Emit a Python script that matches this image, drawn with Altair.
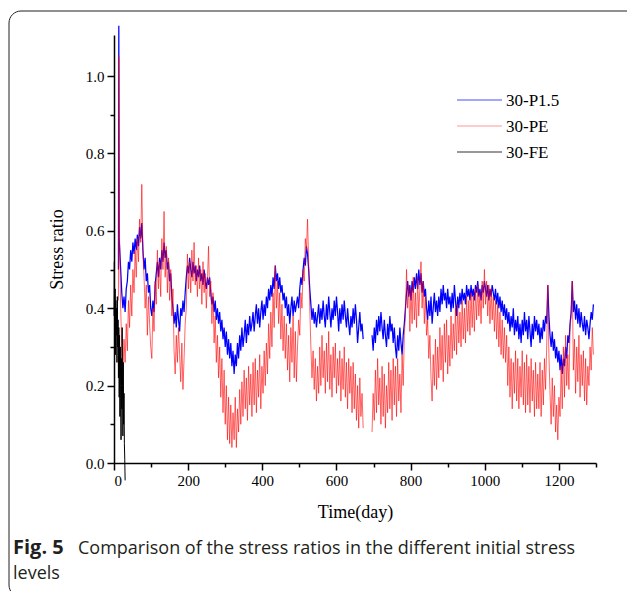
import altair as alt
import pandas as pd

# ---------------- data ----------------
names = ["30-P1.5", "30-PE", "30-FE"]
colors = ["#0000ff", "#ff0000", "#000000"]
legend_colors = ["#4d4dff", "#ff9a9a", "#333333"]

STEP = 3  # sampling step (days) of the two long series

# 30-P1.5 : initial spike, then samples every 3 days
p15_head_days = [12, 13, 14]
p15_head_vals = [0.50, 1.13, 0.58]
p15_a_start = 15          # segment A: day 15 .. 672
p15_a = [
    0.56, 0.50, 0.44, 0.40, 0.43, 0.39, 0.45, 0.47, 0.52, 0.50,
    0.55, 0.52, 0.57, 0.54, 0.58, 0.55, 0.59, 0.56, 0.61, 0.58,
    0.62, 0.55, 0.50, 0.53, 0.47, 0.49, 0.44, 0.46, 0.40, 0.38,
    0.42, 0.39, 0.46, 0.49, 0.52, 0.48, 0.53, 0.50, 0.55, 0.52,
    0.57, 0.53, 0.55, 0.50, 0.52, 0.47, 0.49, 0.43, 0.40, 0.36,
    0.39, 0.35, 0.41, 0.37, 0.34, 0.40, 0.38, 0.42, 0.39, 0.44,
    0.48, 0.51, 0.49, 0.53, 0.50, 0.48, 0.52, 0.49, 0.51, 0.47,
    0.50, 0.48, 0.51, 0.47, 0.49, 0.46, 0.50, 0.47, 0.45, 0.48,
    0.46, 0.48, 0.44, 0.41, 0.43, 0.39, 0.42, 0.37, 0.40, 0.36,
    0.39, 0.34, 0.37, 0.32, 0.35, 0.30, 0.34, 0.28, 0.32, 0.27,
    0.31, 0.25, 0.29, 0.23, 0.28, 0.25, 0.31, 0.27, 0.33, 0.29,
    0.35, 0.30, 0.33, 0.37, 0.31, 0.36, 0.33, 0.38, 0.34, 0.36,
    0.39, 0.34, 0.38, 0.41, 0.36, 0.40, 0.35, 0.39, 0.42, 0.37,
    0.41, 0.38, 0.43, 0.40, 0.45, 0.42, 0.46, 0.43, 0.48, 0.45,
    0.51, 0.47, 0.49, 0.45, 0.48, 0.44, 0.46, 0.42, 0.44, 0.40,
    0.43, 0.38, 0.41, 0.36, 0.40, 0.43, 0.38, 0.42, 0.39, 0.41,
    0.43, 0.40, 0.45, 0.48, 0.46, 0.50, 0.53, 0.51, 0.56, 0.54,
    0.50, 0.45, 0.41, 0.37, 0.40, 0.36, 0.39, 0.35, 0.38, 0.41,
    0.36, 0.40, 0.37, 0.42, 0.38, 0.35, 0.41, 0.37, 0.43, 0.39,
    0.35, 0.40, 0.37, 0.42, 0.38, 0.43, 0.39, 0.34, 0.40, 0.36,
    0.41, 0.37, 0.42, 0.38, 0.35, 0.40, 0.36, 0.33, 0.38, 0.35,
    0.40, 0.36, 0.41, 0.37, 0.31, 0.35, 0.39, 0.34, 0.36, 0.32,
]
p15_b_start = 696        # segment B: day 696 .. 1293
p15_b = [
    0.33, 0.29, 0.35, 0.31, 0.37, 0.33, 0.38, 0.34, 0.39, 0.35,
    0.32, 0.37, 0.33, 0.30, 0.36, 0.32, 0.38, 0.34, 0.36, 0.31,
    0.35, 0.30, 0.27, 0.33, 0.29, 0.35, 0.31, 0.28, 0.33, 0.36,
    0.40, 0.44, 0.47, 0.43, 0.46, 0.42, 0.47, 0.44, 0.48, 0.45,
    0.49, 0.45, 0.50, 0.46, 0.49, 0.44, 0.47, 0.43, 0.45, 0.40,
    0.37, 0.42, 0.38, 0.43, 0.36, 0.40, 0.44, 0.39, 0.42, 0.38,
    0.43, 0.39, 0.45, 0.41, 0.46, 0.42, 0.44, 0.40, 0.45, 0.41,
    0.43, 0.39, 0.44, 0.40, 0.46, 0.42, 0.38, 0.43, 0.40, 0.44,
    0.41, 0.45, 0.42, 0.44, 0.41, 0.46, 0.43, 0.45, 0.42, 0.46,
    0.43, 0.45, 0.42, 0.46, 0.44, 0.47, 0.43, 0.45, 0.42, 0.46,
    0.44, 0.47, 0.45, 0.43, 0.46, 0.42, 0.45, 0.43, 0.46, 0.44,
    0.42, 0.45, 0.41, 0.44, 0.40, 0.43, 0.39, 0.42, 0.38, 0.41,
    0.37, 0.40, 0.36, 0.39, 0.34, 0.38, 0.35, 0.40, 0.33, 0.37,
    0.34, 0.38, 0.32, 0.36, 0.31, 0.37, 0.33, 0.39, 0.34, 0.37,
    0.32, 0.38, 0.34, 0.30, 0.36, 0.32, 0.38, 0.34, 0.37, 0.33,
    0.36, 0.31, 0.35, 0.32, 0.37, 0.34, 0.38, 0.36, 0.46, 0.38,
    0.33, 0.30, 0.34, 0.29, 0.32, 0.27, 0.30, 0.26, 0.29, 0.24,
    0.28, 0.23, 0.27, 0.25, 0.30, 0.27, 0.33, 0.31, 0.36, 0.39,
    0.47, 0.39, 0.42, 0.37, 0.41, 0.36, 0.40, 0.35, 0.39, 0.36,
    0.34, 0.38, 0.33, 0.37, 0.35, 0.32, 0.36, 0.39, 0.37, 0.41,
]

# 30-PE
pe_head_days = [12, 13, 14]
pe_head_vals = [0.42, 1.05, 0.74]
pe_a_start = 15
pe_a = [
    0.58, 0.40, 0.30, 0.23, 0.32, 0.26, 0.36, 0.29, 0.42, 0.35,
    0.46, 0.38, 0.50, 0.44, 0.55, 0.48, 0.58, 0.52, 0.63, 0.57,
    0.72, 0.55, 0.48, 0.40, 0.46, 0.33, 0.43, 0.36, 0.30, 0.27,
    0.40, 0.34, 0.47, 0.41, 0.55, 0.45, 0.52, 0.43, 0.58, 0.50,
    0.65, 0.48, 0.56, 0.44, 0.53, 0.42, 0.50, 0.38, 0.45, 0.29,
    0.23, 0.33, 0.26, 0.35, 0.28, 0.21, 0.31, 0.19, 0.27, 0.36,
    0.40, 0.54, 0.45, 0.52, 0.44, 0.55, 0.47, 0.57, 0.46, 0.51,
    0.43, 0.53, 0.45, 0.50, 0.41, 0.52, 0.44, 0.49, 0.40, 0.47,
    0.56, 0.43, 0.47, 0.36, 0.44, 0.31, 0.38, 0.26, 0.33, 0.22,
    0.30, 0.17, 0.27, 0.13, 0.24, 0.10, 0.20, 0.06, 0.17, 0.05,
    0.15, 0.04, 0.13, 0.06, 0.17, 0.04, 0.14, 0.08, 0.19, 0.10,
    0.21, 0.12, 0.24, 0.14, 0.22, 0.11, 0.25, 0.15, 0.23, 0.12,
    0.26, 0.15, 0.27, 0.13, 0.24, 0.17, 0.28, 0.14, 0.25, 0.18,
    0.29, 0.20, 0.31, 0.23, 0.36, 0.27, 0.39, 0.30, 0.44, 0.35,
    0.51, 0.40, 0.47, 0.36, 0.44, 0.32, 0.41, 0.29, 0.38, 0.27,
    0.36, 0.24, 0.33, 0.21, 0.35, 0.26, 0.38, 0.22, 0.34, 0.21,
    0.30, 0.37, 0.33, 0.44, 0.40, 0.50, 0.47, 0.58, 0.55, 0.63,
    0.52, 0.40, 0.30, 0.22, 0.29, 0.19, 0.27, 0.16, 0.25, 0.18,
    0.30, 0.20, 0.33, 0.22, 0.29, 0.18, 0.31, 0.21, 0.34, 0.19,
    0.28, 0.17, 0.30, 0.22, 0.31, 0.18, 0.27, 0.20, 0.29, 0.16,
    0.27, 0.19, 0.30, 0.17, 0.26, 0.14, 0.27, 0.18, 0.25, 0.13,
    0.26, 0.14, 0.23, 0.11, 0.20, 0.09, 0.22, 0.12, 0.18, 0.09,
]
pe_b_start = 696
pe_b = [
    0.08, 0.18, 0.11, 0.24, 0.13, 0.27, 0.15, 0.22, 0.10, 0.25,
    0.12, 0.23, 0.09, 0.20, 0.13, 0.26, 0.14, 0.24, 0.11, 0.27,
    0.15, 0.25, 0.12, 0.27, 0.16, 0.23, 0.13, 0.28, 0.20, 0.33,
    0.38, 0.50, 0.40, 0.46, 0.34, 0.45, 0.36, 0.48, 0.37, 0.44,
    0.35, 0.48, 0.38, 0.45, 0.52, 0.40, 0.47, 0.36, 0.43, 0.33,
    0.37, 0.27, 0.33, 0.22, 0.16, 0.28, 0.20, 0.32, 0.19, 0.30,
    0.22, 0.35, 0.24, 0.33, 0.21, 0.36, 0.26, 0.37, 0.23, 0.33,
    0.25, 0.38, 0.27, 0.36, 0.29, 0.40, 0.28, 0.41, 0.31, 0.39,
    0.30, 0.42, 0.32, 0.40, 0.31, 0.43, 0.34, 0.42, 0.33, 0.44,
    0.35, 0.43, 0.34, 0.45, 0.37, 0.46, 0.38, 0.44, 0.36, 0.47,
    0.40, 0.50, 0.41, 0.47, 0.38, 0.46, 0.36, 0.45, 0.37, 0.43,
    0.34, 0.42, 0.32, 0.41, 0.30, 0.39, 0.28, 0.37, 0.27, 0.35,
    0.26, 0.33, 0.20, 0.30, 0.17, 0.27, 0.14, 0.26, 0.18, 0.29,
    0.16, 0.27, 0.14, 0.25, 0.17, 0.29, 0.15, 0.26, 0.13, 0.28,
    0.15, 0.25, 0.13, 0.27, 0.16, 0.24, 0.12, 0.26, 0.14, 0.23,
    0.14, 0.26, 0.12, 0.24, 0.15, 0.27, 0.19, 0.30, 0.46, 0.28,
    0.18, 0.10, 0.22, 0.12, 0.20, 0.08, 0.15, 0.06, 0.17, 0.12,
    0.25, 0.14, 0.30, 0.17, 0.33, 0.20, 0.28, 0.19, 0.35, 0.38,
    0.47, 0.24, 0.32, 0.18, 0.30, 0.21, 0.33, 0.17, 0.28, 0.20,
    0.29, 0.16, 0.27, 0.15, 0.25, 0.20, 0.30, 0.24, 0.35, 0.28,
]

# 30-FE : daily, day 0..30
fe_start = 0
fe_vals = [
    0.38, 0.52, 0.30, 0.45, 0.28, 0.42, 0.33, 0.40, 0.26, 0.43,
    0.30, 0.37, 0.22, 0.35, 0.17, 0.33, 0.12, 0.30, 0.20, 0.06,
    0.27, 0.14, 0.35, 0.20, 0.07, 0.26, 0.10, 0.18, 0.05, 0.01,
    -0.045,
]

caption_bold = "Fig. 5"
caption_line1 = "Comparison of the stress ratios in the different initial stress"
caption_line2 = "levels"


def frame(series, parts):
    rows = []
    for seg, (days, vals) in enumerate(parts):
        for d, v in zip(days, vals):
            rows.append({"day": d, "value": v, "series": series, "seg": seg})
    return pd.DataFrame(rows)


def stepdays(start, vals, step):
    return [start + step * i for i in range(len(vals))]


df_p15 = frame(names[0], [
    (p15_head_days + stepdays(p15_a_start, p15_a, STEP), p15_head_vals + p15_a),
    (stepdays(p15_b_start, p15_b, STEP), p15_b),
])
df_pe = frame(names[1], [
    (pe_head_days + stepdays(pe_a_start, pe_a, STEP), pe_head_vals + pe_a),
    (stepdays(pe_b_start, pe_b, STEP), pe_b),
])
df_fe = frame(names[2], [(stepdays(fe_start, fe_vals, 1), fe_vals)])

# ---------------- chart ----------------
W, H = 482, 428
serif = "Liberation Serif"
sans = "Open Sans"

x_enc = alt.X(
    "day:Q",
    scale=alt.Scale(domain=[0, 1300], nice=False, zero=False),
    axis=alt.Axis(
        title="Time(day)",
        values=list(range(0, 1301, 100)),
        format="d",
        labelExpr="datum.value % 200 === 0 ? datum.label : ''",
        tickSize={"condition": {"test": "datum.value % 200 === 0", "value": 7}, "value": 4},
        grid=False,
        labelPadding=3,
        titlePadding=15,
    ),
)
y_enc = alt.Y(
    "value:Q",
    scale=alt.Scale(domain=[0, 1.106], nice=False, zero=False),
    axis=alt.Axis(
        title="Stress ratio",
        values=[round(0.1 * i, 1) for i in range(11)],
        labelExpr="round(datum.value * 10) % 2 === 0 ? format(datum.value, '.1f') : ''",
        tickSize={"condition": {"test": "round(datum.value * 10) % 2 === 0", "value": 7}, "value": 4},
        grid=False,
        labelPadding=3,
        titlePadding=19,
    ),
)
color_enc = alt.Color(
    "series:N",
    scale=alt.Scale(domain=names, range=colors),
    legend=None,
)

line_p15 = alt.Chart(df_p15).mark_line(strokeWidth=1.25).encode(
    x=x_enc, y=y_enc, color=color_enc, detail="seg:N"
)
line_pe = alt.Chart(df_pe).mark_line(strokeWidth=1, opacity=0.6).encode(
    x=x_enc, y=y_enc, color=color_enc, detail="seg:N"
)
line_fe = alt.Chart(df_fe).mark_line(strokeWidth=1).encode(
    x=x_enc, y=y_enc, color=color_enc, detail="seg:N"
)

one = pd.DataFrame({"k": [0]})

# legend (drawn by hand to match the compact original layout)
legend_layers = []
for i, (nm, col) in enumerate(zip(names, legend_colors)):
    ly = 65 + 26 * i
    legend_layers.append(
        alt.Chart(one).mark_rule(color=col, strokeWidth=1.2).encode(
            x=alt.value(343), x2=alt.value(388), y=alt.value(ly)
        )
    )
    legend_layers.append(
        alt.Chart(one).mark_text(
            font=serif, fontSize=17, align="left", baseline="middle", color="#000000"
        ).encode(x=alt.value(392), y=alt.value(ly + 1), text=alt.value(nm))
    )

border = alt.Chart(one).mark_rect(
    fillOpacity=0, stroke="#231f20", strokeWidth=1, cornerRadius=12
).encode(
    x=alt.value(-105), x2=alt.value(540), y=alt.value(-24), y2=alt.value(562)
)
cap_b = alt.Chart(one).mark_text(
    font=sans, fontSize=20, fontWeight="bold", align="left",
    baseline="alphabetic", color="#231f20"
).encode(x=alt.value(-101), y=alt.value(519), text=alt.value(caption_bold))
cap_1 = alt.Chart(one).mark_text(
    font=sans, fontSize=18, align="left", baseline="alphabetic", color="#231f20"
).encode(x=alt.value(-36), y=alt.value(519), text=alt.value(caption_line1))
cap_2 = alt.Chart(one).mark_text(
    font=sans, fontSize=18, align="left", baseline="alphabetic", color="#231f20"
).encode(x=alt.value(-101), y=alt.value(544), text=alt.value(caption_line2))

chart = alt.layer(
    line_p15, line_pe, line_fe, *legend_layers, border, cap_b, cap_1, cap_2
).properties(
    width=W,
    height=H,
    autosize=alt.AutoSizeParams(type="none"),
    padding={"left": 114, "top": 35, "right": 31, "bottom": 128},
).configure_view(stroke=None).configure_axis(
    domainColor="#000000",
    domainWidth=1.5,
    tickColor="#000000",
    tickWidth=1.5,
    labelFont=serif,
    labelFontSize=15,
    labelColor="#000000",
    titleFont=serif,
    titleFontSize=18,
    titleFontWeight="normal",
    titleColor="#000000",
)

chart.save("out.html", embed_options={"renderer": "svg", "actions": False})
